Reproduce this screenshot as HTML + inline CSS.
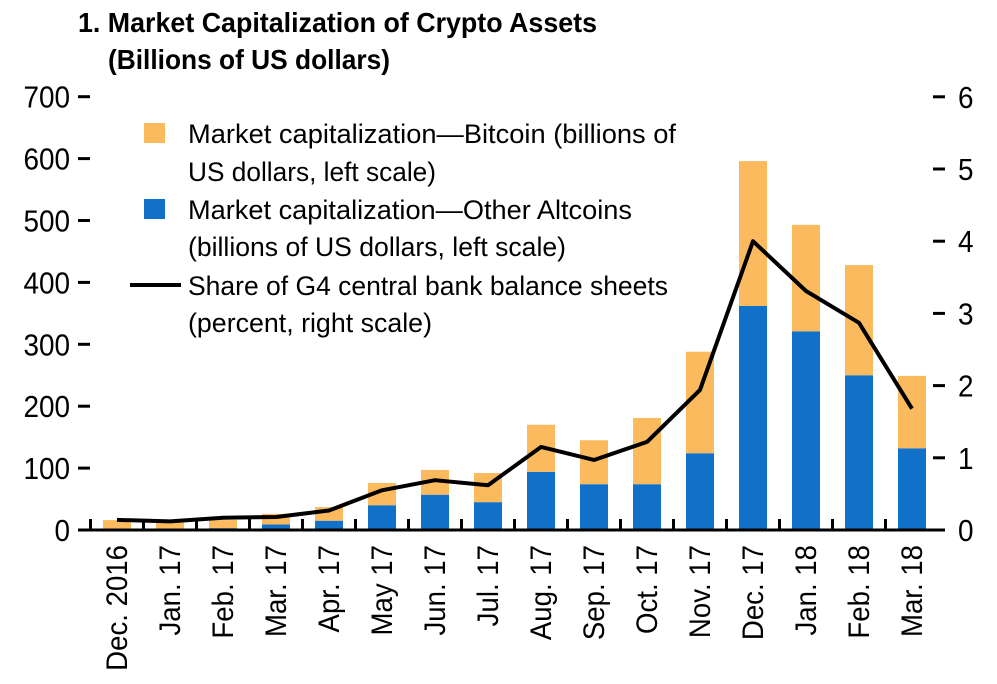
<!DOCTYPE html>
<html><head><meta charset="utf-8"><style>
body{margin:0;background:#fff}
svg{display:block;font-family:"Liberation Sans Narrow","Liberation Sans",sans-serif}
</style></head><body>
<svg id="c" width="997" height="684">
<text x="78" y="32" font-size="28" font-weight="bold" textLength="519" lengthAdjust="spacingAndGlyphs">1. Market Capitalization of Crypto Assets</text>
<text x="108" y="69" font-size="28" font-weight="bold" textLength="282" lengthAdjust="spacingAndGlyphs">(Billions of US dollars)</text>
<g id="bars"></g><g id="axes"></g><g id="line"></g>
<g>
<rect x="144" y="123" width="21" height="20" fill="#FBBA5E"/>
<text x="188" y="143" font-size="27" textLength="488" lengthAdjust="spacingAndGlyphs">Market capitalization—Bitcoin (billions of</text>
<text x="188" y="181" font-size="27" textLength="248" lengthAdjust="spacingAndGlyphs">US dollars, left scale)</text>
<rect x="144" y="199" width="21" height="20" fill="#1170C8"/>
<text x="188" y="219" font-size="27" textLength="444" lengthAdjust="spacingAndGlyphs">Market capitalization—Other Altcoins</text>
<text x="188" y="256" font-size="27" textLength="378" lengthAdjust="spacingAndGlyphs">(billions of US dollars, left scale)</text>
<line x1="130" y1="285" x2="181" y2="285" stroke="#000" stroke-width="4"/>
<text x="188" y="295" font-size="27" textLength="480" lengthAdjust="spacingAndGlyphs">Share of G4 central bank balance sheets</text>
<text x="188" y="332" font-size="27" textLength="244" lengthAdjust="spacingAndGlyphs">(percent, right scale)</text>
</g>
</svg>
<script>
const categories=["Dec. 2016","Jan. 17","Feb. 17","Mar. 17","Apr. 17","May 17","Jun. 17","Jul. 17","Aug. 17","Sep. 17","Oct. 17","Nov. 17","Dec. 17","Jan. 18","Feb. 18","Mar. 18"];
const altcoins=[2,2,3,9,15,40,57,45,94,74,74,124,362,321,250,132];
const totals=[16,12,16,26,37,76,97,92,170,145,181,288,596,493,428,249];
const share=[0.14,0.12,0.17,0.18,0.27,0.55,0.69,0.62,1.15,0.97,1.22,1.94,4.0,3.31,2.87,1.68];
const leftTicks=[0,100,200,300,400,500,600,700];
const rightTicks=[0,1,2,3,4,5,6];
const NS="http://www.w3.org/2000/svg";
const y0=530,yL=v=>y0-v*0.619,yR=v=>y0-v*72.2,xC=i=>117+i*53;
function mk(tag,attrs,parent){const e=document.createElementNS(NS,tag);for(const k in attrs)e.setAttribute(k,attrs[k]);parent.appendChild(e);return e;}
function condense(t,f){const L=t.getComputedTextLength();t.setAttribute('textLength',L*f);t.setAttribute('lengthAdjust','spacingAndGlyphs');}
const bars=document.getElementById('bars'),axes=document.getElementById('axes'),lineG=document.getElementById('line');
categories.forEach((c,i)=>{
 const b=mk('rect',{x:xC(i)-14,y:yL(altcoins[i]),width:28,height:y0-yL(altcoins[i]),fill:'#1170C8'},bars);
 
 
 const o=mk('rect',{x:xC(i)-14,y:yL(totals[i]),width:28,height:yL(altcoins[i])-yL(totals[i]),fill:'#FBBA5E'},bars);
 
 
 const t=mk('text',{transform:`translate(${xC(i)+10},545) rotate(-90)`,'font-size':30,'text-anchor':'end'},axes);
 t.textContent=c;
 
 
 condense(t,0.92);
 const tk=mk('line',{x1:xC(i)-26.5,x2:xC(i)-26.5,y1:y0-11,y2:y0,stroke:'#000','stroke-width':3},axes);
 
 
});
const ax=mk('line',{x1:78,x2:945,y1:y0,y2:y0,stroke:'#000','stroke-width':3},axes);


leftTicks.forEach(v=>{
 const t=mk('text',{x:70,y:yL(v)+11,'font-size':31,'text-anchor':'end'},axes);t.textContent=v;
 
 
 condense(t,0.9);
 const l=mk('line',{x1:78,x2:90,y1:yL(v),y2:yL(v),stroke:'#000','stroke-width':3},axes);
 
 
});
rightTicks.forEach(v=>{
 const l=mk('line',{x1:933,x2:945,y1:yR(v),y2:yR(v),stroke:'#000','stroke-width':3},axes);
 
 
 const t=mk('text',{x:958,y:yR(v)+11,'font-size':31},axes);t.textContent=v;
 
 
 condense(t,0.9);
});
const p=mk('polyline',{points:share.map((v,i)=>xC(i)+','+yR(v)).join(' '),fill:'none',stroke:'#000','stroke-width':4,'stroke-linejoin':'round'},lineG);


</script>
</body></html>
